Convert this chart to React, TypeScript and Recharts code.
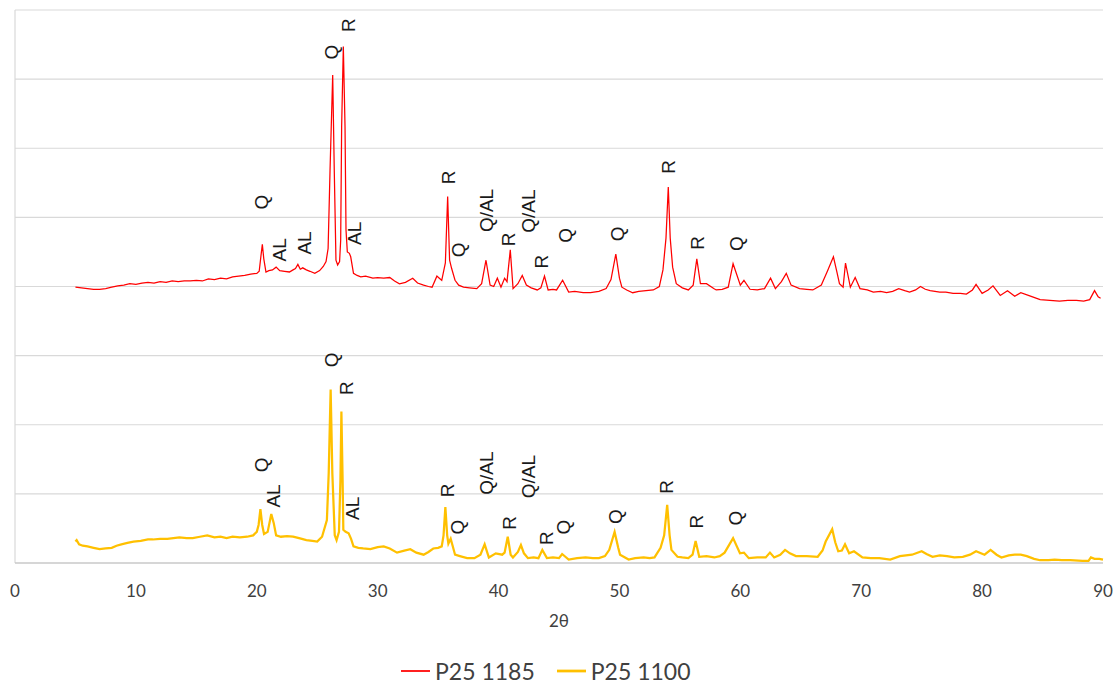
import React from 'react';
import { ComposedChart, Line, XAxis, YAxis, CartesianGrid, Legend, ReferenceDot, ReferenceLine } from 'recharts';

// 2θ (deg), relative intensity (offset stacked)
const p25_1185: [number, number][] = [
  [5.0, 3.99], [5.5, 3.98], [6.0, 3.97], [6.5, 3.96], [7.0, 3.96], [7.5, 3.97], [8.0, 3.99], [8.5, 4.01],
  [9.0, 4.02], [9.5, 4.04], [10.0, 4.03], [10.5, 4.05], [11.0, 4.06], [11.5, 4.05], [12.0, 4.07], [12.5, 4.06],
  [13.0, 4.08], [13.5, 4.07], [14.0, 4.08], [14.5, 4.08], [15.0, 4.09], [15.5, 4.08], [16.0, 4.11], [16.5, 4.10],
  [17.0, 4.12], [17.5, 4.11], [18.0, 4.14], [18.5, 4.15], [19.0, 4.16], [19.5, 4.18], [20.0, 4.19], [20.2, 4.22],
  [20.35, 4.45], [20.46, 4.61], [20.58, 4.40], [20.76, 4.21], [21.0, 4.23], [21.3, 4.24], [21.6, 4.28], [21.9, 4.23],
  [22.3, 4.22], [22.7, 4.21], [23.0, 4.24], [23.2, 4.26], [23.4, 4.32], [23.6, 4.25], [23.8, 4.27], [24.1, 4.24],
  [24.4, 4.22], [24.8, 4.19], [25.2, 4.23], [25.5, 4.29], [25.73, 4.36], [25.9, 4.55], [26.06, 5.68], [26.28, 7.06],
  [26.41, 5.68], [26.55, 4.38], [26.69, 4.31], [26.85, 4.36], [26.94, 4.67], [27.02, 6.31], [27.16, 7.47], [27.3, 6.31],
  [27.38, 4.82], [27.49, 4.50], [27.66, 4.48], [27.77, 4.43], [28.0, 4.19], [28.3, 4.16], [28.6, 4.14], [29.0, 4.15],
  [29.6, 4.12], [30.0, 4.13], [30.5, 4.12], [31.0, 4.13], [31.4, 4.08], [31.8, 4.04], [32.3, 4.06], [32.9, 4.12],
  [33.3, 4.05], [33.8, 4.02], [34.2, 4.00], [34.5, 3.99], [34.9, 4.15], [35.1, 4.12], [35.3, 4.09], [35.6, 4.34],
  [35.79, 5.30], [35.95, 4.38], [36.12, 4.26], [36.4, 4.09], [36.7, 4.02], [37.1, 3.99], [37.6, 3.98], [38.2, 3.97],
  [38.6, 4.04], [38.96, 4.38], [39.3, 4.02], [39.6, 4.00], [39.9, 4.12], [40.2, 3.99], [40.5, 4.12], [40.7, 4.07],
  [40.97, 4.53], [41.2, 3.97], [41.6, 4.04], [41.96, 4.16], [42.3, 4.02], [42.7, 3.98], [43.2, 3.95], [43.5, 3.98],
  [43.8, 4.15], [44.1, 3.95], [44.5, 3.96], [44.8, 3.95], [45.3, 4.09], [45.8, 3.92], [46.3, 3.93], [47.0, 3.91],
  [47.6, 3.91], [48.3, 3.93], [48.9, 3.97], [49.3, 4.10], [49.7, 4.47], [50.0, 4.12], [50.2, 3.99], [50.6, 3.95],
  [51.1, 3.91], [51.6, 3.93], [52.2, 3.94], [52.8, 3.95], [53.3, 4.00], [53.6, 4.24], [53.85, 4.70], [54.04, 5.44],
  [54.2, 4.70], [54.4, 4.28], [54.7, 4.04], [55.2, 3.98], [55.7, 3.95], [56.1, 4.02], [56.4, 4.40], [56.7, 4.04],
  [57.2, 4.04], [57.8, 3.97], [58.0, 3.95], [58.5, 3.96], [59.0, 3.99], [59.4, 4.33], [60.0, 4.02], [60.3, 4.09],
  [60.8, 3.96], [61.4, 3.95], [62.0, 3.97], [62.5, 4.12], [62.9, 3.97], [63.4, 4.07], [63.8, 4.19], [64.2, 4.02],
  [64.9, 3.97], [65.5, 3.96], [66.0, 3.95], [66.7, 4.02], [67.2, 4.22], [67.7, 4.43], [68.0, 4.20], [68.2, 4.04],
  [68.5, 3.99], [68.7, 4.34], [69.1, 3.99], [69.5, 4.13], [69.9, 3.97], [70.5, 3.95], [71.0, 3.92], [71.6, 3.93],
  [72.1, 3.91], [72.6, 3.93], [73.1, 3.97], [73.6, 3.94], [74.0, 3.92], [74.5, 3.95], [74.9, 4.00], [75.3, 3.96],
  [75.7, 3.94], [76.5, 3.92], [77.0, 3.92], [77.6, 3.90], [78.2, 3.90], [78.7, 3.89], [79.2, 3.95], [79.5, 4.03],
  [80.0, 3.90], [80.5, 3.95], [80.9, 4.01], [81.5, 3.87], [82.1, 3.94], [82.7, 3.86], [83.2, 3.91], [84.0, 3.86],
  [84.8, 3.81], [85.6, 3.80], [86.4, 3.79], [87.1, 3.80], [87.8, 3.80], [88.4, 3.79], [88.9, 3.81], [89.3, 3.94],
  [89.6, 3.85], [89.8, 3.83],
];

const p25_1100: [number, number][] = [
  [5.0, 0.31], [5.1, 0.33], [5.3, 0.27], [5.6, 0.25], [6.0, 0.24], [6.5, 0.22], [7.0, 0.20], [7.5, 0.21],
  [8.0, 0.22], [8.4, 0.25], [8.8, 0.27], [9.3, 0.29], [9.8, 0.31], [10.4, 0.32], [11.0, 0.34], [11.4, 0.34],
  [12.0, 0.35], [12.6, 0.35], [13.1, 0.36], [13.6, 0.37], [14.2, 0.36], [14.7, 0.36], [15.3, 0.38], [15.9, 0.40],
  [16.5, 0.37], [17.0, 0.38], [17.5, 0.36], [18.0, 0.38], [18.6, 0.37], [19.2, 0.38], [19.7, 0.40], [20.0, 0.45],
  [20.15, 0.55], [20.3, 0.78], [20.45, 0.55], [20.6, 0.42], [20.9, 0.45], [21.2, 0.71], [21.4, 0.58], [21.6, 0.40],
  [22.0, 0.38], [22.5, 0.39], [23.0, 0.38], [23.5, 0.36], [24.1, 0.33], [24.6, 0.32], [25.0, 0.31], [25.4, 0.38],
  [25.8, 0.62], [25.95, 1.30], [26.11, 2.51], [26.25, 1.30], [26.45, 0.40], [26.6, 0.33], [26.8, 0.45], [26.92, 1.20],
  [27.0, 2.19], [27.1, 1.20], [27.16, 0.48], [27.35, 0.45], [27.6, 0.43], [27.8, 0.35], [28.0, 0.24], [28.4, 0.22],
  [28.8, 0.21], [29.4, 0.20], [30.0, 0.23], [30.5, 0.24], [31.0, 0.21], [31.6, 0.15], [32.2, 0.18], [32.7, 0.20],
  [33.2, 0.15], [33.8, 0.12], [34.2, 0.16], [34.6, 0.21], [35.0, 0.22], [35.3, 0.24], [35.45, 0.40], [35.6, 0.81],
  [35.75, 0.40], [35.85, 0.28], [36.04, 0.35], [36.2, 0.25], [36.4, 0.12], [36.8, 0.10], [37.4, 0.07], [38.0, 0.07],
  [38.5, 0.12], [38.85, 0.27], [39.2, 0.08], [39.77, 0.14], [40.3, 0.12], [40.5, 0.15], [40.76, 0.38], [41.0, 0.12],
  [41.19, 0.08], [41.6, 0.16], [41.85, 0.26], [42.1, 0.14], [42.43, 0.07], [42.9, 0.08], [43.3, 0.07], [43.62, 0.19],
  [44.0, 0.07], [44.5, 0.08], [45.0, 0.07], [45.26, 0.13], [45.8, 0.05], [46.5, 0.07], [47.2, 0.08], [47.8, 0.07],
  [48.3, 0.07], [48.8, 0.10], [49.16, 0.19], [49.6, 0.45], [49.9, 0.22], [50.05, 0.12], [50.76, 0.05], [51.3, 0.07],
  [52.0, 0.08], [52.5, 0.07], [52.9, 0.08], [53.4, 0.22], [53.7, 0.40], [53.95, 0.84], [54.15, 0.40], [54.3, 0.19],
  [54.8, 0.09], [55.2, 0.08], [55.7, 0.07], [56.05, 0.12], [56.3, 0.32], [56.6, 0.09], [57.2, 0.10], [57.85, 0.08],
  [58.3, 0.10], [58.7, 0.15], [59.4, 0.36], [59.97, 0.14], [60.3, 0.15], [60.7, 0.07], [61.4, 0.08], [62.1, 0.08],
  [62.45, 0.15], [62.8, 0.08], [63.3, 0.12], [63.7, 0.19], [64.1, 0.14], [64.6, 0.10], [65.5, 0.10], [66.4, 0.09],
  [66.8, 0.18], [67.06, 0.31], [67.6, 0.49], [67.85, 0.30], [68.1, 0.17], [68.4, 0.18], [68.66, 0.27], [69.0, 0.14],
  [69.4, 0.17], [70.1, 0.08], [70.8, 0.07], [71.5, 0.07], [72.4, 0.05], [73.2, 0.10], [74.2, 0.12], [75.0, 0.17],
  [75.4, 0.13], [75.9, 0.09], [76.5, 0.11], [77.1, 0.10], [77.7, 0.08], [78.4, 0.09], [79.0, 0.12], [79.5, 0.17],
  [80.2, 0.12], [80.7, 0.19], [81.2, 0.12], [81.6, 0.08], [82.2, 0.11], [82.7, 0.12], [83.2, 0.12], [83.7, 0.10],
  [84.3, 0.06], [84.8, 0.04], [85.5, 0.04], [86.0, 0.05], [86.6, 0.04], [87.3, 0.04], [88.3, 0.03], [88.8, 0.03],
  [89.0, 0.08], [89.3, 0.06], [89.7, 0.06], [90.0, 0.05],
];

// phase annotations: [2θ, intensity, text]
const labels1185: [number, number, string][] = [
  [20.41, 5.22, 'Q'], [21.92, 4.53, 'AL'], [23.99, 4.63, 'AL'], [26.2, 7.39, 'Q'], [27.57, 7.78, 'R'],
  [28.12, 4.77, 'AL'], [35.84, 5.58, 'R'], [36.67, 4.53, 'Q'], [39.02, 5.1, 'Q/AL'], [40.81, 4.68, 'R'],
  [42.46, 5.09, 'Q/AL'], [43.57, 4.36, 'R'], [45.5, 4.74, 'Q'], [49.82, 4.76, 'Q'], [54.04, 5.73, 'R'],
  [56.44, 4.63, 'R'], [59.7, 4.62, 'Q'],
];
const labels1100: [number, number, string][] = [
  [20.41, 1.42, 'Q'], [21.37, 0.97, 'AL'], [26.2, 2.94, 'Q'], [27.44, 2.53, 'R'], [27.93, 0.79, 'AL'],
  [35.76, 1.05, 'R'], [36.59, 0.52, 'Q'], [39.02, 1.3, 'Q/AL'], [40.89, 0.58, 'R'], [42.46, 1.25, 'Q/AL'],
  [43.98, 0.36, 'R'], [45.41, 0.52, 'Q'], [49.71, 0.67, 'Q'], [53.91, 1.1, 'R'], [56.39, 0.6, 'R'],
  [59.64, 0.65, 'Q'],
];

const xTicks = [0, 10, 20, 30, 40, 50, 60, 70, 80, 90];
const yTicks = [0, 1, 2, 3, 4, 5, 6, 7, 8];
const seriesNames = ['P25 1185', 'P25 1100'];
const seriesColors = ['#FF0000', '#FFC000'];
const seriesWidths = [1.25, 2.25];

const toRows = (arr: [number, number][]) => arr.map(([x, y]) => ({ x, y }));

const LabelShape = (text: string) => (props: any) => {
  const { cx, cy } = props;
  return (
    <text
      x={cx}
      y={cy}
      transform={`rotate(-90, ${cx}, ${cy})`}
      textAnchor="middle"
      dominantBaseline="central"
      fontFamily="'Liberation Sans', Arial, sans-serif"
      fontSize={19}
      fill="#1a1a1a"
    >
      {text}
    </text>
  );
};

const renderLegend = () => (
  <div
    style={{
      display: 'flex',
      alignItems: 'center',
      height: 30,
      paddingLeft: 401,
      fontFamily: 'Lato, sans-serif',
      fontSize: 23,
      color: '#404040',
      lineHeight: '30px',
    }}
  >
    {seriesNames.map((n, i) => (
      <div key={n} style={{ display: 'flex', alignItems: 'center', marginRight: 22 }}>
        <svg width={29} height={6}>
          <line x1={0} y1={3} x2={29} y2={3} stroke={seriesColors[i]} strokeWidth={seriesWidths[i] + 0.5} />
        </svg>
        <span style={{ marginLeft: 5 }}>{n}</span>
      </div>
    ))}
  </div>
);

export default function App() {
  const allLabels = [
    ...labels1185.map((l) => ({ l, k: 'a' })),
    ...labels1100.map((l) => ({ l, k: 'b' })),
  ];
  return (
    <div style={{ position: 'absolute', left: 0, top: 0, width: 1120, height: 684, background: '#fff' }}>
      <ComposedChart width={1120} height={684} margin={{ top: 10, right: 17, left: 15, bottom: 0 }}>
        <CartesianGrid vertical={false} horizontalValues={yTicks} stroke="#d9d9d9" strokeWidth={1.2} />
        <XAxis
          type="number"
          dataKey="x"
          domain={[0, 90]}
          ticks={xTicks}
          height={91}
          tickLine={false}
          tickSize={0}
          tickMargin={22}
          axisLine={{ stroke: '#bfbfbf', strokeWidth: 1.2 }}
          tick={{ fontFamily: 'Lato, sans-serif', fontSize: 17, fill: '#404040' }}
          label={{ value: '2θ', position: 'insideTop', offset: 52, fontFamily: 'Lato, sans-serif', fontSize: 17, fill: '#404040' }}
        />
        <YAxis type="number" domain={[0, 8]} ticks={yTicks} width={0} hide />
        <ReferenceLine x={0} stroke="#d9d9d9" strokeWidth={1.2} />
        <Line
          data={toRows(p25_1185)}
          dataKey="y"
          name={seriesNames[0]}
          stroke={seriesColors[0]}
          strokeWidth={seriesWidths[0]}
          dot={false}
          type="linear"
          isAnimationActive={false}
        />
        <Line
          data={toRows(p25_1100)}
          dataKey="y"
          name={seriesNames[1]}
          stroke={seriesColors[1]}
          strokeWidth={seriesWidths[1]}
          dot={false}
          type="linear"
          isAnimationActive={false}
        />
        {allLabels.map(({ l, k }, i) => (
          <ReferenceDot
            key={k + i}
            x={l[0]}
            y={l[1]}
            r={0}
            ifOverflow="visible"
            shape={LabelShape(l[2])}
          />
        ))}
        <Legend
          verticalAlign="bottom"
          content={renderLegend}
          wrapperStyle={{ position: 'absolute', left: 0, top: 656, width: 1120, height: 30 }}
        />
      </ComposedChart>
    </div>
  );
}
